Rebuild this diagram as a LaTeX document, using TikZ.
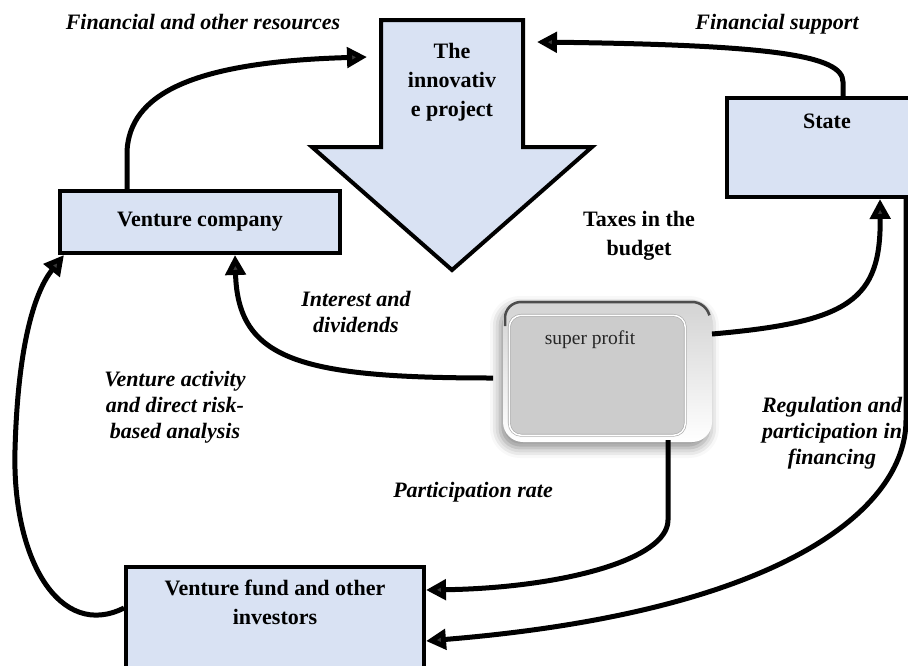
\documentclass[tikz,border=0pt]{standalone}
\usepackage{fontspec}
\setmainfont{Liberation Serif}
\usetikzlibrary{arrows.meta,shadows.blur}
\definecolor{boxblue}{HTML}{D9E2F3}
\begin{document}
\begin{tikzpicture}[x=1pt,y=1pt,
  box/.style={draw=black, line width=4pt, fill=boxblue, inner sep=0pt},
  boxtext/.style={font=\fontsize{22}{29}\selectfont\bfseries, align=center},
  flow/.style={line width=5pt, -{Triangle[length=20pt,width=20pt]}},
  lab/.style={font=\fontsize{22}{26}\selectfont\bfseries\itshape, align=center},
  plain/.style={font=\fontsize{22}{29}\selectfont\bfseries, align=center},
]
\useasboundingbox (0,0) rectangle (908,-665);

% the innovative project: a block arrow pointing down
\coordinate (ptl) at (381,-20);
\coordinate (ptr) at (523,-20);
\draw[line width=4pt, fill=boxblue, line join=miter]
  (ptl) -- (ptr) -- (523,-147) -- (592,-147) -- (452,-270) -- (312,-147) -- (381,-147) -- cycle;
\node[boxtext] (proj) at (452,-82) {The\\innovativ\\e project};

% boxes
\node[box, minimum width=280, minimum height=62, anchor=north west] (vc) at (58,-189) {};
\node[boxtext] (vct) at (vc.center) {Venture company};

\node[box, minimum width=200, minimum height=99, anchor=north west] (state) at (725,-96) {};
\node[boxtext, anchor=north] (statet) at ([yshift=-14pt]state.north) {State};

\node[box, minimum width=298, minimum height=130, anchor=north west] (fund) at (124,-565) {};
\node[boxtext, anchor=north] (fundt) at ([yshift=-11pt]fund.north) {Venture fund and other\\investors};

% super profit: a raised grey button
\path[blur shadow={shadow xshift=-3pt, shadow yshift=-6pt, shadow blur radius=10pt, shadow opacity=45},
      top color=gray!35, bottom color=white, rounded corners=20] (503,-300) rectangle (712,-442);
\draw[black!70, line width=2.5pt] (505,-326) -- (505,-318) arc[start angle=180, end angle=90, radius=16]
  -- (692,-302) arc[start angle=90, end angle=15, radius=18];
\node[draw=gray!70, double=white, double distance=1.5pt, line width=0.6pt, fill=gray!40,
      rounded corners=12, minimum width=176, minimum height=120, anchor=north west] (profit) at (509,-315) {};
\node[font=\fontsize{19.5}{22}\selectfont, text=black!85] (profitt) at (590,-340) {super profit};

% flows
\draw[flow] ([xshift=69]vc.north west) -- ++(0,38) .. controls (130,-95) and (190,-62) .. ([shift={(-14,-37)}]ptl);
\draw[flow] ([xshift=118]state.north west) -- ++(0,14) .. controls (843,-55) and (770,-45) .. ([shift={(14,-22)}]ptr);
\draw[flow] (712,-334) .. controls (850,-322) and (881,-300) .. ([xshift=155]state.south west);
\draw[flow] (493,-378) .. controls (300,-378) and (238,-360) .. ([xshift=177]vc.south west);
\draw[flow] (fund.west |- 0,-608) .. controls (60,-640) and (12,-560) .. (15,-450) .. controls (18,-340) and (36,-290) .. ([xshift=6]vc.south west);
\draw[flow] (668,-440) -- (668,-520) .. controls (668,-560) and (560,-588) .. (fund.east |- 0,-590);
\draw[flow] (906,-196) -- (906,-420) .. controls (906,-510) and (780,-612) .. (fund.east |- 0,-641);

% labels
\node[lab] (l1) at (203,-22) {Financial and other resources};
\node[lab] (l2) at (777,-24) {Financial support};
\node[plain] (l3) at (639,-236) {Taxes in the\\budget};
\node[lab] (l4) at (356,-312) {Interest and\\dividends};
\node[lab] (l5) at (175,-407) {Venture activity\\and direct risk-\\based analysis};
\node[lab] (l6) at (473,-492) {Participation rate};
\node[lab] (l7) at (832,-433) {Regulation and\\participation in\\financing};
\end{tikzpicture}
\end{document}
